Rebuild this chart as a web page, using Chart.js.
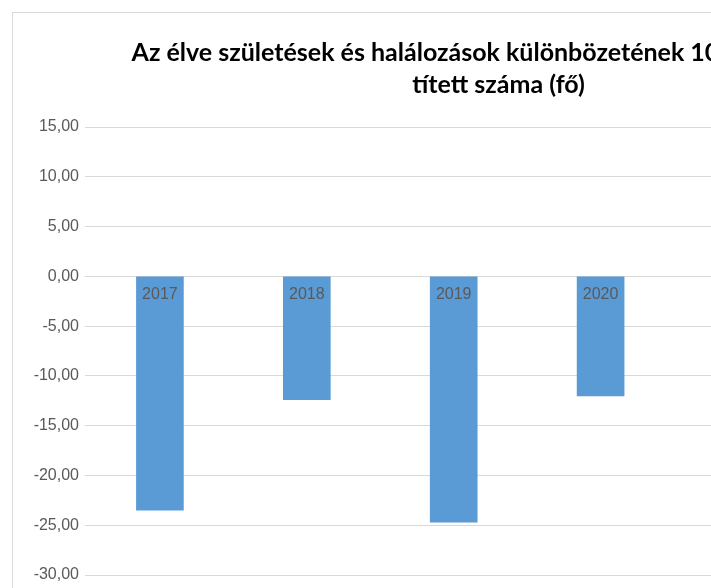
<!DOCTYPE html>
<html>
<head>
<meta charset="utf-8">
<script src="https://cdn.jsdelivr.net/npm/chart.js@4"></script>
<style>
  body { margin: 0; background: #fff; overflow: hidden; }
  #wrap { position: absolute; left: 12px; top: 12px; width: 971px; height: 620px; border: 1px solid #d9d9d9; background: #fff; }
</style>
</head>
<body>
<div id="wrap"><canvas id="canvas" width="971" height="600"></canvas></div>
<script>
"use strict"

const evek = [2017, 2018, 2019, 2020];
const ertekek = [-23.5, -12.4, -24.7, -12.0];
const cim = ['Az élve születések és halálozások különbözetének 1000 lakosra ve', 'tített száma (fő)'];

function creaGrafico(){
    let ctx = document.getElementById('canvas').getContext('2d');
    let myChart = new Chart(ctx, {
        type: 'bar',
        data: {
            datasets: [{
                data: evek.map((ev, i) => ({x: ev, y: ertekek[i]})),
                backgroundColor: '#5b9bd5',
                barThickness: 47
            }]
        },
        options: {
            responsive: false,
            animation: false,
            layout: { padding: { left: 0, right: 0, top: 0, bottom: 38 } },
            plugins: {
                legend: { display: false },
                tooltip: { enabled: false },
                title: {
                    display: true,
                    text: cim,
                    color: '#000',
                    font: { family: 'Lato', size: 25, weight: 'bold', lineHeight: 1.28 },
                    padding: { top: 24, bottom: 26 }
                }
            },
            scales: {
                x: {
                    type: 'linear',
                    min: 2016.49,
                    max: 2022.61,
                    offset: false,
                    position: { y: 0 },
                    grid: { display: false, drawTicks: false, offset: false },
                    border: { display: false },
                    afterBuildTicks: s => { s.ticks = evek.map(v => ({ value: v })); },
                    ticks: {
                        z: 1,
                        padding: 9,
                        color: '#595959',
                        font: { family: 'Liberation Sans', size: 16 },
                        callback: v => String(v)
                    }
                },
                y: {
                    min: -30,
                    max: 15,
                    afterFit: s => { s.width = 72; },
                    grid: { color: '#d9d9d9', drawTicks: false },
                    border: { display: false },
                    ticks: {
                        stepSize: 5,
                        padding: 6,
                        color: '#595959',
                        font: { family: 'Liberation Sans', size: 16 },
                        callback: v => v.toFixed(2).replace('.', ',')
                    }
                }
            }
        }
    });
}

creaGrafico();
</script>
</body>
</html>
